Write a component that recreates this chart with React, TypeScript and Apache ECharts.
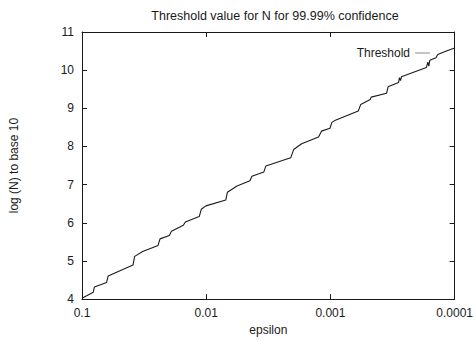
import React, { useEffect, useRef } from "react";
import * as echarts from "echarts";

// epsilon values (x, log scale, reversed) and log10(N) threshold values (y)
const epsilon = [
  0.1, 0.08123, 0.07943, 0.06344, 0.0616, 0.03887, 0.03767, 0.03251, 0.02443, 0.02355,
  0.01977, 0.01905, 0.01528, 0.01472, 0.01138, 0.01096, 0.01006, 0.006958, 0.006756, 0.005649,
  0.004446, 0.004285, 0.003436, 0.003311, 0.002089, 0.001977, 0.001706, 0.001247, 0.00118, 0.001009,
  0.0009727, 0.000912, 0.000597, 0.0005702, 0.0004786, 0.0004699, 0.0003532, 0.0003436, 0.0002831, 0.000278,
  0.0002729, 0.0002679, 0.000169, 0.0001644, 0.0001614, 0.0001585, 0.0001413, 0.0001368, 0.000118, 0.0001,
];
const threshold = [
  4.025, 4.178, 4.318, 4.433, 4.603, 4.891, 5.12, 5.247, 5.407, 5.578,
  5.667, 5.781, 5.934, 6.023, 6.163, 6.354, 6.443, 6.595, 6.799, 6.964,
  7.104, 7.219, 7.333, 7.486, 7.702, 7.919, 8.071, 8.249, 8.402, 8.478,
  8.631, 8.69, 8.929, 9.102, 9.229, 9.293, 9.394, 9.565, 9.674, 9.802,
  9.725, 9.827, 10.069, 10.209, 10.107, 10.26, 10.328, 10.412, 10.496, 10.583,
];
const xTickLabels = ["0.1", "0.01", "0.001", "0.0001"];
const seriesName = "Threshold";
const titleText = "Threshold value for N for 99.99% confidence";
const xName = "epsilon";
const yName = "log (N) to base 10";

const FONT = "Liberation Sans, Arial, Helvetica, sans-serif";
const INK = "#1a1a1a";

export default function App() {
  const ref = useRef<HTMLDivElement>(null);
  useEffect(() => {
    if (!ref.current) return;
    const chart = echarts.init(ref.current, null, { renderer: "svg" });
    const data = epsilon.map((e, i) => [e, threshold[i]]);
    const xLabel = (v: number) => {
      const k = Math.round(-Math.log10(v)) - 1;
      return xTickLabels[k] ?? "";
    };
    const baseX = {
      type: "log" as const,
      logBase: 10,
      min: 0.0001,
      max: 0.1,
      inverse: true,
      splitLine: { show: false },
      minorTick: { show: false },
      axisLine: { lineStyle: { color: INK, width: 1 } },
      axisTick: { inside: true, length: 5, lineStyle: { color: INK } },
    };
    const baseY = {
      type: "value" as const,
      min: 4,
      max: 11,
      interval: 1,
      splitLine: { show: false },
      axisLine: { show: true, lineStyle: { color: INK, width: 1 } },
      axisTick: { show: true, inside: true, length: 5, lineStyle: { color: INK } },
    };
    chart.setOption({
      animation: false,
      backgroundColor: "#ffffff",
      textStyle: { fontFamily: FONT },
      title: {
        text: titleText,
        left: 270,
        textAlign: "center",
        top: 4,
        textStyle: { fontFamily: FONT, fontSize: 12.5, fontWeight: "normal", color: INK },
      },
      legend: {
        data: [seriesName],
        right: 41,
        top: 42,
        align: "right",
        icon: "rect",
        itemWidth: 15,
        itemHeight: 1,
        itemGap: 6,
        itemStyle: { color: "#888" },
        textStyle: { fontFamily: FONT, fontSize: 12, color: INK },
      },
      grid: { left: 82, right: 19, top: 32, bottom: 34, containLabel: false },
      xAxis: [
        {
          ...baseX,
          position: "bottom",
          name: xName,
          nameLocation: "middle",
          nameGap: 20,
          nameTextStyle: { fontFamily: FONT, fontSize: 12, color: INK },
          axisLabel: { formatter: xLabel, fontFamily: FONT, fontSize: 12, color: INK, margin: 8 },
        },
        {
          ...baseX,
          position: "top",
          axisLabel: { show: false },
        },
      ],
      yAxis: [
        {
          ...baseY,
          position: "left",
          name: yName,
          nameLocation: "middle",
          nameRotate: 90,
          nameGap: 62,
          nameTextStyle: { fontFamily: FONT, fontSize: 12, color: INK },
          axisLabel: { fontFamily: FONT, fontSize: 12, color: INK, margin: 8 },
        },
        {
          ...baseY,
          position: "right",
          axisLabel: { show: false },
        },
      ],
      series: [
        {
          name: seriesName,
          type: "line",
          data,
          showSymbol: false,
          symbol: "none",
          lineStyle: { color: INK, width: 1.1 },
          itemStyle: { color: "#888" },
        },
      ],
    });
    return () => chart.dispose();
  }, []);
  return (
    <div
      ref={ref}
      style={{ position: "fixed", left: 0, top: 0, width: 476, height: 341, background: "#fff" }}
    />
  );
}
